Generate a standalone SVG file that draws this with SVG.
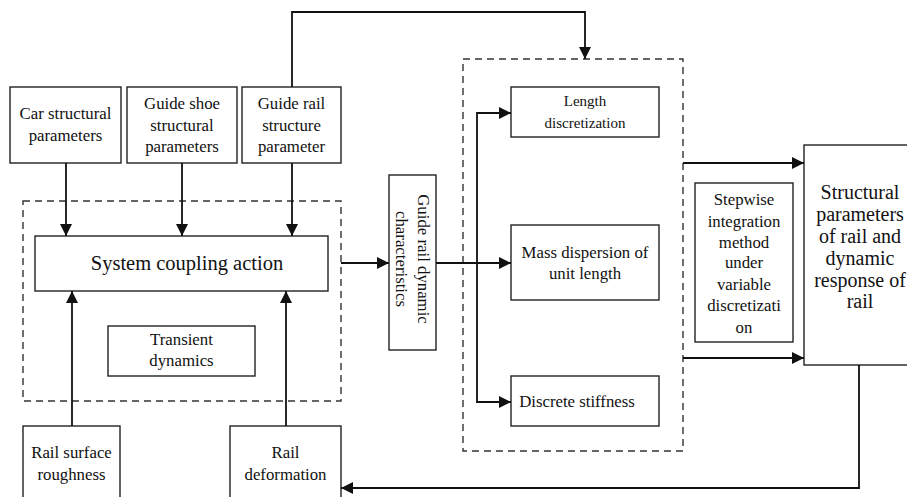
<svg xmlns="http://www.w3.org/2000/svg" width="907" height="497" viewBox="0 0 907 497">
<style>
.box{fill:#fff;stroke:#222;stroke-width:1.4}
.dash{fill:none;stroke:#333;stroke-width:1.4;stroke-dasharray:7,5}
.ln{fill:none;stroke:#111;stroke-width:1.8}
.t{font-family:"Liberation Serif","Tinos","Times New Roman",Times,"DejaVu Serif",serif;fill:#111;text-anchor:middle;font-size:16.8px}
.big{font-size:20.5px}
.mid{font-size:20px}
.sm{font-size:15px}
</style>
<defs>
<marker id="ah" markerUnits="userSpaceOnUse" markerWidth="12" markerHeight="12" viewBox="0 0 12 12" refX="12" refY="6" orient="auto">
<path d="M0,0 L12,6 L0,12 Z" fill="#111"/>
</marker>
</defs>
<rect x="0" y="0" width="907" height="497" fill="#fff"/>
<g id="groups">
<rect id="coupling-region" class="dash" x="23" y="201" width="318" height="200"/>
<rect id="discretization-region" class="dash" x="463" y="59" width="220" height="392"/>
</g>
<g id="car" class="t"><rect class="box" x="10" y="87" width="111" height="76"/><text x="65.5" y="119">Car structural</text><text x="65.5" y="141">parameters</text></g>
<g id="shoe" class="t"><rect class="box" x="127" y="87" width="110" height="76"/><text x="182" y="109">Guide shoe</text><text x="182" y="131">structural</text><text x="182" y="152">parameters</text></g>
<g id="railstruct" class="t"><rect class="box" x="242" y="87" width="99" height="76"/><text x="291.5" y="109">Guide rail</text><text x="291.5" y="131">structure</text><text x="291.5" y="152">parameter</text></g>
<g id="coupling" class="t"><rect class="box" x="35" y="236" width="293" height="55"/><text class="big" x="187" y="270">System coupling action</text></g>
<g id="transient" class="t"><rect class="box" x="108" y="326" width="147" height="50"/><text x="181.5" y="345">Transient</text><text x="181.5" y="366">dynamics</text></g>
<g id="roughness" class="t"><rect class="box" x="23" y="426" width="97" height="80"/><text x="71.5" y="458">Rail surface</text><text x="71.5" y="480">roughness</text></g>
<g id="deformation" class="t"><rect class="box" x="230" y="426" width="111" height="80"/><text x="285.5" y="458">Rail</text><text x="285.5" y="480">deformation</text></g>
<g id="raildyn" class="t"><rect class="box" x="389" y="175" width="47" height="175"/>
<text transform="translate(412.5,259) rotate(90)"><tspan x="0" y="-5.5">Guide rail dynamic</tspan><tspan x="0" y="16.5">characteristics</tspan></text></g>
<g id="length" class="t"><rect class="box" x="511" y="87" width="148" height="50"/><text class="sm" x="585" y="106">Length</text><text class="sm" x="585" y="128">discretization</text></g>
<g id="mass" class="t"><rect class="box" x="511" y="225" width="148" height="75"/><text x="585" y="258">Mass dispersion of</text><text x="585" y="279">unit length</text></g>
<g id="stiffness" class="t"><rect class="box" x="511" y="376" width="148" height="50"/><text x="577" y="407">Discrete stiffness</text></g>
<g id="stepwise" class="t"><rect class="box" x="695" y="183" width="98" height="159"/>
<text x="744" y="205">Stepwise</text><text x="744" y="227">integration</text><text x="744" y="248">method</text><text x="744" y="268">under</text><text x="744" y="290">variable</text><text x="744" y="311">discretizati</text><text x="744" y="333">on</text></g>
<g id="response" class="t"><rect class="box" x="804" y="145" width="130" height="220"/>
<text class="mid" x="860" y="199">Structural</text><text class="mid" x="860" y="221">parameters</text><text class="mid" x="860" y="243">of rail and</text><text class="mid" x="860" y="265">dynamic</text><text class="mid" x="860" y="287">response of</text><text class="mid" x="860" y="308">rail</text></g>
<g id="connectors">
<path class="ln" d="M292,87 V12 H585 V59" marker-end="url(#ah)"/>
<path class="ln" d="M66,163 V236" marker-end="url(#ah)"/>
<path class="ln" d="M182,163 V236" marker-end="url(#ah)"/>
<path class="ln" d="M292,163 V236" marker-end="url(#ah)"/>
<path class="ln" d="M72,426 V291" marker-end="url(#ah)"/>
<path class="ln" d="M286,426 V291" marker-end="url(#ah)"/>
<path class="ln" d="M341,263 H389" marker-end="url(#ah)"/>
<path class="ln" d="M436,263 H511" marker-end="url(#ah)"/>
<path class="ln" d="M477,263 V113 H511" marker-end="url(#ah)"/>
<path class="ln" d="M477,263 V402 H511" marker-end="url(#ah)"/>
<path class="ln" d="M683,163 H804" marker-end="url(#ah)"/>
<path class="ln" d="M683,358 H804" marker-end="url(#ah)"/>
<path class="ln" d="M859,365 V488 H341" marker-end="url(#ah)"/>
</g>
</svg>
